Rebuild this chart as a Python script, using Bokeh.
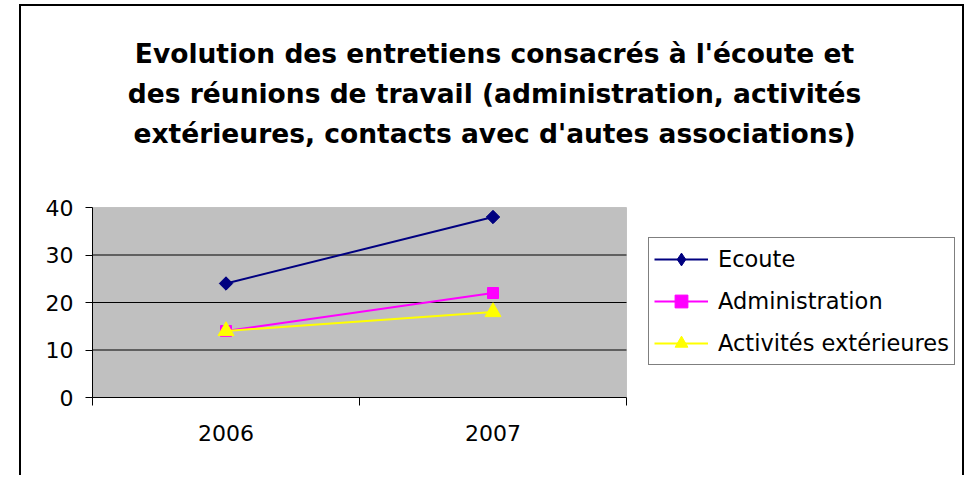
import math
from bokeh.plotting import figure
from bokeh.models import Range1d, FixedTicker, Legend, LegendItem, Label, BoxAnnotation
from bokeh.embed import file_html
from bokeh.resources import INLINE

# ---- data ----
years = ["2006", "2007"]
ecoute = [24, 38]
administration = [14, 22]
activites = [14, 18]
series_names = ["Ecoute", "Administration", "Activités extérieures"]
y_ticks = [0, 10, 20, 30, 40]
grid_ticks = [10, 20, 30]
title_lines = [
    "Evolution des entretiens consacrés à l'écoute et",
    "des réunions de travail (administration, activités",
    "extérieures, contacts avec d'autes associations)",
]

# ---- layout (page pixels) ----
CX, CY = 21, 6            # canvas top-left on the page (inside the CSS border)
W, H = 945, 471
FONT = "DejaVu Sans"
PA_L, PA_R, PA_T, PA_B = 92, 626, 207, 397   # plot-area box on the page
FR_T, FR_R = 10, 962                          # frame top / right on the page
YMAX_AX = 40
px_x = (PA_R - PA_L) / len(years)
px_y = (PA_B - PA_T) / YMAX_AX

p = figure(
    width=W, height=H, output_backend="svg", toolbar_location=None, title=None,
    x_range=Range1d(0, (FR_R - PA_L) / px_x),
    y_range=Range1d(0, (PA_B - FR_T) / px_y),
    min_border_left=PA_L - CX, min_border_right=W - (FR_R - CX),
    min_border_top=FR_T - CY, min_border_bottom=H - (PA_B - CY),
    background_fill_color="white", border_fill_color="white",
    outline_line_color=None,
)
p.styles = {"border": "2px solid black", "border-bottom-width": "0px",
            "margin-left": "19px", "margin-top": "4px"}

xs = [i + 0.5 for i in range(len(years))]

# plot area (grey box)
p.add_layout(BoxAnnotation(
    left=0, right=len(years), bottom=0, top=YMAX_AX, level="underlay",
    fill_color="#C0C0C0", fill_alpha=1.0, line_color="#808080", line_width=1,
))

# axes
xa = p.xaxis[0]
xa.bounds = (0, len(years))
xa.ticker = FixedTicker(ticks=xs, minor_ticks=list(range(len(years) + 1)))
xa.major_label_overrides = {x: y for x, y in zip(xs, years)}
xa.major_tick_out = 0
xa.major_tick_in = 0
xa.minor_tick_out = 8
xa.minor_tick_in = 0
xa.minor_tick_line_color = "black"
xa.axis_line_color = "black"
xa.major_label_standoff = 19
xa.major_label_text_font = FONT
xa.major_label_text_font_size = "22px"
xa.major_label_text_color = "black"

ya = p.yaxis[0]
ya.bounds = (0, YMAX_AX)
ya.ticker = FixedTicker(ticks=y_ticks)
ya.major_tick_out = 7
ya.major_tick_in = 0
ya.minor_tick_out = 0
ya.minor_tick_in = 0
ya.major_tick_line_color = "black"
ya.axis_line_color = "black"
ya.major_label_standoff = 12
ya.major_label_text_font = FONT
ya.major_label_text_font_size = "22px"
ya.major_label_text_color = "black"

p.xgrid.visible = False
p.ygrid.visible = False

# horizontal grid lines inside the plot area
p.segment(x0=[0] * len(grid_ticks), y0=grid_ticks,
          x1=[len(years)] * len(grid_ticks), y1=grid_ticks,
          line_color="black", line_width=1)

# series
colors = ["#000080", "#FF00FF", "#FFFF00"]
values = [ecoute, administration, activites]
markers = [("square", 9.5, math.pi / 4), ("square", 11, 0), ("triangle", 16, 0)]

items = []
for k, (name, vals, col, (mk, sz, ang)) in enumerate(
        zip(series_names, values, colors, markers)):
    ln = p.line(xs, vals, line_color=col, line_width=2)
    rends = [ln]
    if k == 0:
        # diamond drawn beneath the rotated square so the legend shows a diamond
        dm = p.scatter(xs, vals, marker="diamond", size=12,
                       fill_color=col, line_color=col)
        rends.append(dm)
    sc = p.scatter(xs, vals, marker=mk, size=sz, angle=ang,
                   fill_color=col, line_color=col)
    if k != 0:
        rends.append(sc)
    items.append(LegendItem(label=name, renderers=rends))

legend = Legend(
    items=items, location=(648 - PA_L, PA_B - 365),
    label_text_font=FONT, label_text_font_size="22.5px", label_text_color="black",
    glyph_width=54, glyph_height=32, label_standoff=10, spacing=10,
    padding=5, margin=0, border_line_color="black", border_line_width=1,
    background_fill_color="white", background_fill_alpha=1.0,
)
p.add_layout(legend)

# title (three centred lines)
for i, t in enumerate(title_lines):
    p.add_layout(Label(
        x=(494 - PA_L) / px_x, y=(PA_B - (53 + 40 * i)) / px_y,
        text=t, text_align="center", text_baseline="alphabetic",
        text_font=FONT, text_font_style="bold", text_font_size="26.5px",
        text_color="black",
    ))

open("out.html", "w").write(file_html(p, INLINE))
